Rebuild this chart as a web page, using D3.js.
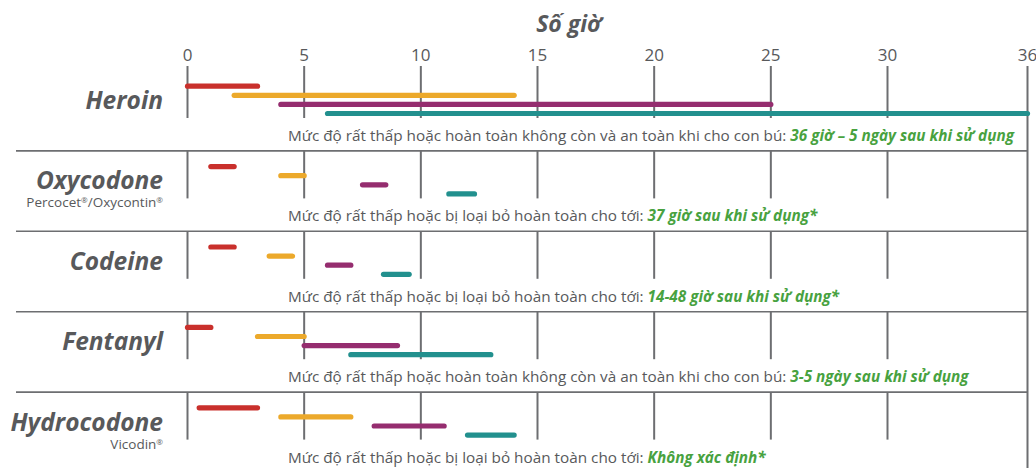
<!DOCTYPE html>
<html>
<head>
<meta charset="utf-8">
<script src="https://cdn.jsdelivr.net/npm/d3@7"></script>
<style>
  body { margin: 0; background: #fff; }
  svg { display: block; font-family: "Open Sans", sans-serif; }
</style>
</head>
<body>
<div id="chart"></div>
<script>
var width = 1036, height = 468;

// data
var drugs = ["Heroin", "Oxycodone", "Codeine", "Fentanyl", "Hydrocodone"];
var brands = [[], ["Percocet", "/Oxycontin"], [], [], ["Vicodin"]];
var ticks = [0, 5, 10, 15, 20, 25, 30, 36];
var redBars    = [[0, 3], [1, 2], [1, 2], [0, 1], [0.5, 3]];
var yellowBars = [[2, 14], [4, 5], [3.5, 4.5], [3, 5], [4, 7]];
var purpleBars = [[4, 25], [7.5, 8.5], [6, 7], [5, 9], [8, 11]];
var tealBars   = [[6, 36], [11.2, 12.3], [8.4, 9.5], [7, 13], [12, 14]];
var noteText = [
  "Mức độ rất thấp hoặc hoàn toàn không còn và an toàn khi cho con bú: ",
  "Mức độ rất thấp hoặc bị loại bỏ hoàn toàn cho tới: ",
  "Mức độ rất thấp hoặc bị loại bỏ hoàn toàn cho tới: ",
  "Mức độ rất thấp hoặc hoàn toàn không còn và an toàn khi cho con bú: ",
  "Mức độ rất thấp hoặc bị loại bỏ hoàn toàn cho tới: "
];
var noteValue = [
  "36 giờ – 5 ngày sau khi sử dụng",
  "37 giờ sau khi sử dụng*",
  "14-48 giờ sau khi sử dụng*",
  "3-5 ngày sau khi sử dụng",
  "Không xác định*"
];

var series = [
  {name: "red", color: "#c9302c", bars: redBars},
  {name: "yellow", color: "#eca92b", bars: yellowBars},
  {name: "purple", color: "#952d6f", bars: purpleBars},
  {name: "teal", color: "#22908e", bars: tealBars}
];

var gray = "#58595b", lineGray = "#6d6e71", green = "#48a23f";

var svg = d3.select("#chart")
    .append("svg")
    .attr("width", width)
    .attr("height", height);

// scales
var x = d3.scaleLinear()
    .domain([0, 36])
    .range([187.5, 1027.5]);

var row = d3.scaleLinear()
    .domain([0, drugs.length])
    .range([70.5, 472.5]);

var lane = d3.scalePoint()
    .domain(series.map(function (s) { return s.name; }))
    .range([-27.3, 0]);

// axis title
svg.append("text")
    .attr("x", 569)
    .attr("y", 32)
    .attr("text-anchor", "middle")
    .style("font-size", "23px")
    .style("font-weight", "bold")
    .style("font-style", "italic")
    .style("fill", gray)
    .text("Số giờ");

// tick labels
svg.append("g")
    .selectAll("text")
    .data(ticks)
    .enter()
    .append("text")
    .attr("x", function (d) { return x(d); })
    .attr("y", 61)
    .attr("text-anchor", "middle")
    .style("font-size", "17px")
    .style("fill", gray)
    .text(function (d) { return d; });

// separators
svg.append("g")
    .selectAll("line")
    .data(d3.range(1, drugs.length))
    .enter()
    .append("line")
    .attr("x1", 16)
    .attr("x2", x(36))
    .attr("y1", function (d) { return row(d); })
    .attr("y2", function (d) { return row(d); })
    .style("stroke", lineGray)
    .style("stroke-width", 1.6);

// right border
svg.append("line")
    .attr("x1", x(36)).attr("x2", x(36))
    .attr("y1", 66).attr("y2", height)
    .style("stroke", lineGray)
    .style("stroke-width", 2);

drugs.forEach(function (drug, i) {
    var top = i === 0 ? 66 : row(i);
    var bottom = row(i) + 47.5;
    var g = svg.append("g");

    // ticks in each row
    g.selectAll("line.tick")
        .data(ticks.slice(0, -1))
        .enter()
        .append("line")
        .attr("class", "tick")
        .attr("x1", function (d) { return x(d); })
        .attr("x2", function (d) { return x(d); })
        .attr("y1", top)
        .attr("y2", bottom)
        .style("stroke", lineGray)
        .style("stroke-width", 2);

    // bars
    g.selectAll("line.bar")
        .data(series)
        .enter()
        .append("line")
        .attr("class", "bar")
        .attr("x1", function (s) { return x(s.bars[i][0]); })
        .attr("x2", function (s) { return x(s.bars[i][1]); })
        .attr("y1", function (s) { return bottom - 4.5 + lane(s.name); })
        .attr("y2", function (s) { return bottom - 4.5 + lane(s.name); })
        .style("stroke", function (s) { return s.color; })
        .style("stroke-width", 5.2)
        .style("stroke-linecap", "round");

    // drug name
    g.append("text")
        .attr("x", 163)
        .attr("y", row(i) + 38.5)
        .attr("text-anchor", "end")
        .style("font-size", "24.5px")
        .style("font-weight", "bold")
        .style("font-style", "italic")
        .style("fill", gray)
        .text(drug);

    // brand names with small superscript ®
    if (brands[i].length) {
        var b = g.append("text")
            .attr("x", 163)
            .attr("y", row(i) + 56.5)
            .attr("text-anchor", "end")
            .style("font-size", "13.5px")
            .style("fill", gray);
        brands[i].forEach(function (name, k) {
            b.append("tspan").attr("dy", k ? 4 : 0).text(name);
            b.append("tspan")
                .attr("dy", -4)
                .style("font-size", "8px")
                .text("®");
        });
    }

    // note
    var note = g.append("text")
        .attr("x", 288)
        .attr("y", row(i + 1) - 10)
        .style("font-size", "15.3px")
        .style("fill", gray);
    note.append("tspan").text(noteText[i]);
    note.append("tspan")
        .style("font-weight", "bold")
        .style("font-style", "italic")
        .style("fill", green)
        .text(noteValue[i]);
});
</script>
</body>
</html>
